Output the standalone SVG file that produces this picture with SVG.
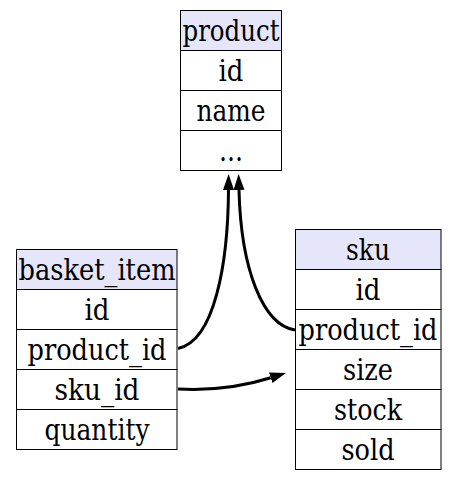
<svg xmlns="http://www.w3.org/2000/svg" width="456" height="480" viewBox="0 0 456 480">
<style>
.hd{fill:#e6e6fa;stroke:#000;stroke-width:1}
.rw{fill:#fff;stroke:#000;stroke-width:1}
.t text{font-family:'DejaVu Serif Condensed', 'DejaVu Serif', serif;font-size:29px;fill:#000;text-anchor:middle}
.e{fill:none;stroke:#000;stroke-width:3}
</style>
<defs>
<marker id="ah" markerUnits="userSpaceOnUse" markerWidth="17" markerHeight="12" refX="0" refY="6" orient="auto" viewBox="0 0 17 12">
<path d="M0,0.5 L16,6 L0,11.5 z" fill="#000"/>
</marker>
</defs>
<rect width="456" height="480" fill="#fff"/>
<g id="connectors">
<path class="e" d="M178,348.5 C215,341 228,262 228.5,190" marker-end="url(#ah)"/>
<path class="e" d="M295,330 C263,325 241,270 239,190" marker-end="url(#ah)"/>
<path class="e" d="M178,389 C215,391 245,386 270.7,377.8" marker-end="url(#ah)"/>
</g>
<g id="product" class="t">
<rect class="hd" x="180.5" y="10.5" width="101" height="40"/>
<rect class="rw" x="180.5" y="50.5" width="101" height="40"/>
<rect class="rw" x="180.5" y="90.5" width="101" height="40"/>
<rect class="rw" x="180.5" y="130.5" width="101" height="40"/>
<text x="231" y="41" textLength="97" lengthAdjust="spacingAndGlyphs">product</text>
<text x="231" y="81" textLength="25" lengthAdjust="spacingAndGlyphs">id</text>
<text x="231" y="121" textLength="69" lengthAdjust="spacingAndGlyphs">name</text>
<text x="231" y="161" textLength="24" lengthAdjust="spacingAndGlyphs">...</text>
</g>
<g id="basket_item" class="t">
<rect class="hd" x="16.5" y="249.5" width="160.5" height="40"/>
<rect class="rw" x="16.5" y="289.5" width="160.5" height="40"/>
<rect class="rw" x="16.5" y="329.5" width="160.5" height="40"/>
<rect class="rw" x="16.5" y="369.5" width="160.5" height="40"/>
<rect class="rw" x="16.5" y="409.5" width="160.5" height="40"/>
<text x="97" y="280" textLength="157" lengthAdjust="spacingAndGlyphs">basket_item</text>
<text x="97" y="320" textLength="25" lengthAdjust="spacingAndGlyphs">id</text>
<text x="97" y="360" textLength="139" lengthAdjust="spacingAndGlyphs">product_id</text>
<text x="97" y="400" textLength="85" lengthAdjust="spacingAndGlyphs">sku_id</text>
<text x="97" y="440" textLength="105" lengthAdjust="spacingAndGlyphs">quantity</text>
</g>
<g id="sku" class="t">
<rect class="hd" x="295.5" y="229.5" width="145.5" height="40"/>
<rect class="rw" x="295.5" y="269.5" width="145.5" height="40"/>
<rect class="rw" x="295.5" y="309.5" width="145.5" height="40"/>
<rect class="rw" x="295.5" y="349.5" width="145.5" height="40"/>
<rect class="rw" x="295.5" y="389.5" width="145.5" height="40"/>
<rect class="rw" x="295.5" y="429.5" width="145.5" height="40"/>
<text x="368" y="260" textLength="44" lengthAdjust="spacingAndGlyphs">sku</text>
<text x="368" y="300" textLength="25" lengthAdjust="spacingAndGlyphs">id</text>
<text x="368" y="340" textLength="139" lengthAdjust="spacingAndGlyphs">product_id</text>
<text x="368" y="380" textLength="50" lengthAdjust="spacingAndGlyphs">size</text>
<text x="368" y="420" textLength="68" lengthAdjust="spacingAndGlyphs">stock</text>
<text x="368" y="460" textLength="53" lengthAdjust="spacingAndGlyphs">sold</text>
</g>
</svg>
